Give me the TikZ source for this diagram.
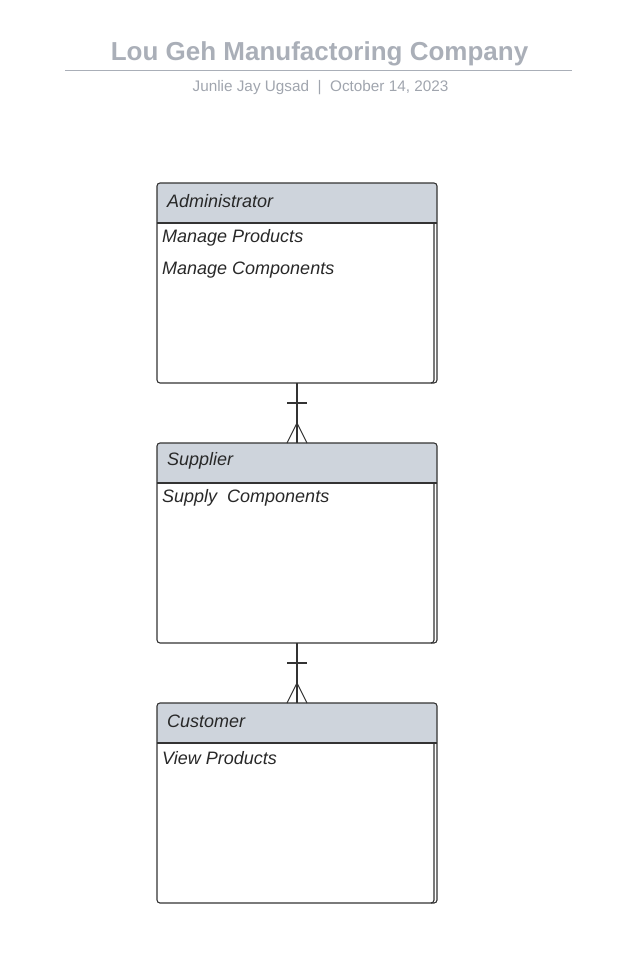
\documentclass[tikz,border=0pt]{standalone}
\usepackage{fontspec}
\setmainfont{Liberation Sans}
\definecolor{titlegray}{RGB}{170,175,184}
\definecolor{subgray}{RGB}{160,165,174}
\definecolor{headfill}{RGB}{206,212,220}
\definecolor{edge}{RGB}{51,51,51}
\definecolor{txt}{RGB}{40,40,40}
\tikzset{
  entbox/.style={draw=edge, line width=1.1pt, rounded corners=3pt},
  entline/.style={draw=edge, line width=1.1pt},
  enttitle/.style={anchor=west, inner sep=0pt, font=\fontsize{18}{21}\selectfont\itshape, text=txt},
  entattr/.style={anchor=west, inner sep=0pt, font=\fontsize{18}{21}\selectfont\itshape, text=txt},
  conn/.style={draw=edge, line width=1.1pt},
}
\newcommand{\entity}[3]{% name, top y, title
  \fill[headfill, rounded corners=3pt] (157,#2) rectangle (437,#2+40);
  \draw[entbox] (157,#2) rectangle (437,#2+200);
  \draw[entline] (157,#2+40) -- (437,#2+40);
  \draw[entline] (434,#2+40) -- (434,#2+197) to[out=-90,in=0] (431,#2+200);
  \node[enttitle] (#1) at (167,#2+18) {#3};
  \coordinate (#1top) at (297,#2);
  \coordinate (#1bot) at (297,#2+200);
}
\begin{document}
\begin{tikzpicture}[x=1pt,y=-1pt]
\useasboundingbox (0,0) rectangle (634,955);
\node[font=\fontsize{26}{30}\selectfont\bfseries, text=titlegray, inner sep=0pt] (title) at (319.5,54) {Lou Geh Manufactoring Company};
\draw[titlegray, line width=1.8pt] (65,70.5) -- (572,70.5);
\node[font=\fontsize{15.3}{18}\selectfont, text=subgray, inner sep=0pt] (sub) at (320.5,87.5) {Junlie Jay Ugsad~~|~~October 14, 2023};

\entity{admin}{183}{Administrator}
\node[entattr] (a1) at (162,238) {Manage Products};
\node[entattr] (a2) at (162,270) {Manage Components};

\entity{supp}{443}{Supplier}
\node[entattr] (s1) at (162,498) {Supply\ \ Components};

\entity{cust}{703}{Customer}
\node[entattr] (c1) at (162,758) {View Products};

% connectors: one (bar) to many (crow's foot)
\foreach \a/\b in {admin/supp, supp/cust}{
  \draw[conn] (\a bot) -- (\b top);
  \draw[conn] ([xshift=-10pt,yshift=-20pt]\a bot) -- ([xshift=10pt,yshift=-20pt]\a bot);
  \draw[conn] ([xshift=-10pt]\b top) -- ([yshift=20pt]\b top) -- ([xshift=10pt]\b top);
}
\end{tikzpicture}
\end{document}
